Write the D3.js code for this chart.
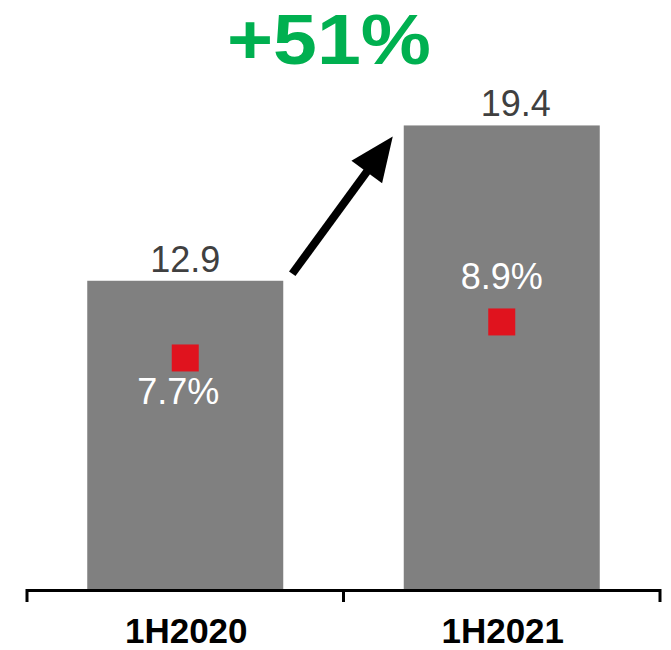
<!DOCTYPE html>
<html>
<head>
<meta charset="utf-8">
<script src="https://cdn.jsdelivr.net/npm/d3@7"></script>
<style>
  html, body { margin: 0; padding: 0; background: #fff; }
  svg { display: block; }
  text { font-family: "Liberation Sans", Arial, sans-serif; }
</style>
</head>
<body>
<svg id="chart" width="671" height="650"></svg>
<script>
// Half-year revenue and margin
const periods = ["1H2020", "1H2021"];
const revenue = [12.9, 19.4];
const margin = [7.7, 8.9];
const growthLabel = "+51%";

const svg = d3.select("#chart");
const baseY = 589;

const x = d3.scaleBand().domain(periods).range([27, 660]).paddingInner(0).paddingOuter(0);
const barW = 196;
const y = d3.scaleLinear().domain([0, 24.65]).range([baseY, 0]);
const y2 = d3.scaleLinear().domain([0, 19.63]).range([baseY, 0]);

const cx = d => x(d) + x.bandwidth() / 2;

// bars
svg.selectAll("rect.bar").data(periods).join("rect")
  .attr("class", "bar")
  .attr("x", d => cx(d) - barW / 2)
  .attr("width", barW)
  .attr("y", (d, i) => y(revenue[i]))
  .attr("height", (d, i) => baseY - y(revenue[i]))
  .attr("fill", "#808080");

// value labels above bars
const valDx = [0, 14];
svg.selectAll("text.val").data(periods).join("text")
  .attr("class", "val")
  .attr("x", (d, i) => cx(d) + valDx[i])
  .attr("y", (d, i) => y(revenue[i]) - 9)
  .attr("text-anchor", "middle")
  .attr("font-size", 36)
  .attr("fill", "#404040")
  .text((d, i) => revenue[i].toFixed(1));

// margin markers
const sq = 27;
svg.selectAll("rect.mk").data(periods).join("rect")
  .attr("class", "mk")
  .attr("x", d => cx(d) - sq / 2)
  .attr("y", (d, i) => y2(margin[i]) - sq / 2)
  .attr("width", sq)
  .attr("height", sq)
  .attr("fill", "#E0131E");

// margin labels: below marker for first, above for second
svg.selectAll("text.pct").data(periods).join("text")
  .attr("class", "pct")
  .attr("x", (d, i) => cx(d) + (i === 0 ? -7 : 0))
  .attr("y", (d, i) => i === 0 ? y2(margin[i]) + 46 : y2(margin[i]) - 33)
  .attr("text-anchor", "middle")
  .attr("font-size", 36)
  .attr("fill", "#ffffff")
  .text((d, i) => margin[i].toFixed(1) + "%");

// category axis
const axis = svg.append("g");
axis.append("line")
  .attr("x1", 27).attr("x2", 660)
  .attr("y1", baseY + 1.5).attr("y2", baseY + 1.5)
  .attr("stroke", "#000").attr("stroke-width", 3);
[27, x(periods[1]), 660].forEach(tx => {
  axis.append("line")
    .attr("x1", tx).attr("x2", tx)
    .attr("y1", baseY).attr("y2", baseY + 13)
    .attr("stroke", "#000").attr("stroke-width", 3);
});
axis.selectAll("text").data(periods).join("text")
  .attr("x", d => cx(d) + 1)
  .attr("y", 643)
  .attr("text-anchor", "middle")
  .attr("font-size", 35)
  .attr("font-weight", "bold")
  .attr("fill", "#000")
  .text(d => d);

// growth arrow
const x0 = cx(periods[0]) + barW / 2 + 9, yA0 = y(revenue[0]) - 7;
const x1 = x(periods[1]) + (x.bandwidth() - barW) / 2 - 11, yA1 = y(revenue[1]) + 11;
const ang = Math.atan2(yA1 - yA0, x1 - x0);
const headL = 44, headW = 19;
const bx = x1 - headL * Math.cos(ang), by = yA1 - headL * Math.sin(ang);
svg.append("line")
  .attr("x1", x0).attr("y1", yA0)
  .attr("x2", bx + 4 * Math.cos(ang)).attr("y2", by + 4 * Math.sin(ang))
  .attr("stroke", "#000").attr("stroke-width", 8);
svg.append("path")
  .attr("d", d3.line()([
    [x1, yA1],
    [bx - headW * Math.sin(ang), by + headW * Math.cos(ang)],
    [bx + headW * Math.sin(ang), by - headW * Math.cos(ang)]
  ]) + "Z")
  .attr("fill", "#000");

// growth label
svg.append("text")
  .attr("x", 329)
  .attr("y", 64)
  .attr("text-anchor", "middle")
  .attr("font-size", 70)
  .attr("font-weight", "bold")
  .attr("fill", "#00B050")
  .attr("textLength", 204)
  .attr("lengthAdjust", "spacingAndGlyphs")
  .text(growthLabel);
</script>
</body>
</html>
